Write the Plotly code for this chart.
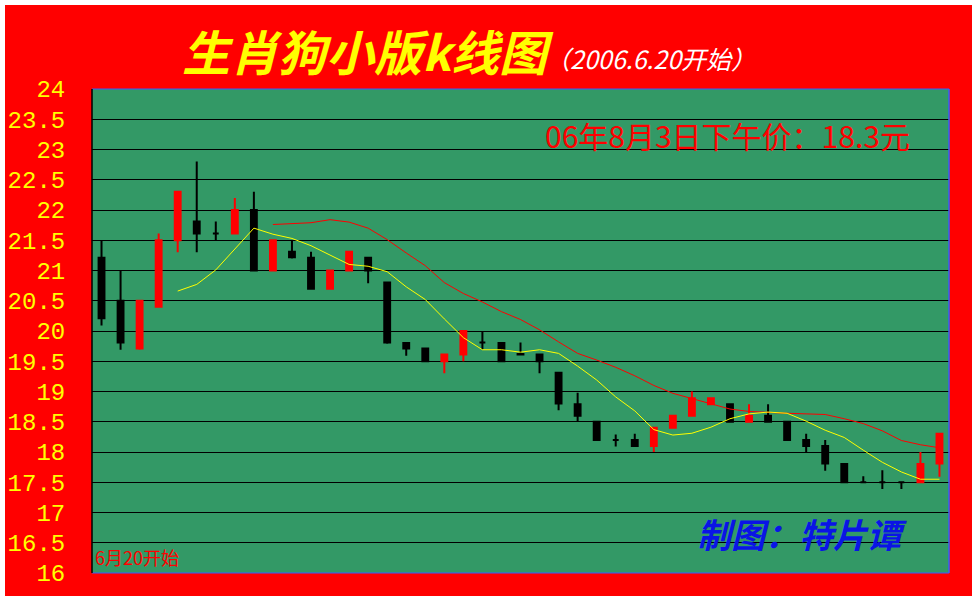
import plotly.graph_objects as go

# ---- data ----
opens = [21.21, 20.50, 19.71, 20.40, 21.50, 21.81, 21.61, 21.61, 22.00, 21.00,
         21.31, 21.21, 20.70, 21.00, 21.21, 20.80, 19.80, 19.71, 19.50, 19.61,
         19.81, 19.80, 19.62, 19.61, 19.31, 18.79, 18.50, 18.20, 18.20, 18.10,
         18.40, 18.60, 18.79, 18.79, 18.50, 18.60, 18.50, 18.20, 18.10, 17.80,
         17.50, 17.50, 17.50, 17.50, 17.81]
highs = [21.50, 21.00, 20.50, 21.61, 22.30, 22.80, 21.81, 22.20, 22.30, 21.50,
         21.50, 21.31, 21.00, 21.31, 21.21, 20.80, 19.80, 19.71, 19.61, 20.00,
         20.00, 19.80, 19.81, 19.61, 19.31, 18.98, 18.50, 18.29, 18.30, 18.40,
         18.60, 19.00, 18.89, 18.79, 18.79, 18.79, 18.50, 18.30, 18.20, 17.80,
         17.60, 17.70, 17.50, 18.00, 18.30]
lows = [20.09, 19.69, 19.69, 20.39, 21.30, 21.30, 21.50, 21.60, 21.00, 21.00,
        21.20, 20.69, 20.69, 21.00, 20.79, 19.79, 19.59, 19.50, 19.30, 19.50,
        19.70, 19.50, 19.61, 19.30, 18.69, 18.50, 18.19, 18.09, 18.09, 18.00,
        18.39, 18.59, 18.79, 18.50, 18.50, 18.50, 18.19, 18.00, 17.69, 17.50,
        17.50, 17.39, 17.39, 17.50, 17.59]
closes = [20.21, 19.81, 20.50, 21.50, 22.30, 21.61, 21.61, 22.00, 21.00, 21.50,
          21.22, 20.70, 21.00, 21.31, 21.00, 19.81, 19.71, 19.50, 19.61, 20.00,
          19.81, 19.50, 19.61, 19.50, 18.80, 18.60, 18.20, 18.20, 18.10, 18.40,
          18.60, 18.89, 18.89, 18.50, 18.60, 18.50, 18.20, 18.10, 17.81, 17.50,
          17.50, 17.50, 17.50, 17.80, 18.30]
# 5-day average line (from day 5) and 10-day average line (from day 10)
ma5 = [20.66, 20.77, 21.01, 21.36, 21.70, 21.60, 21.53, 21.41, 21.26, 21.10,
       21.07, 20.98, 20.73, 20.52, 20.20, 19.89, 19.69, 19.69, 19.65, 19.69,
       19.63, 19.42, 19.19, 18.91, 18.68, 18.37, 18.28, 18.31, 18.41, 18.55,
       18.63, 18.66, 18.64, 18.51, 18.36, 18.24, 18.03, 17.83, 17.67, 17.55,
       17.55]
ma10 = [21.76, 21.77, 21.79, 21.84, 21.80, 21.70, 21.51, 21.29, 21.08, 20.80,
        20.62, 20.48, 20.32, 20.19, 20.02, 19.82, 19.63, 19.52, 19.40, 19.26,
        19.10, 18.97, 18.88, 18.79, 18.71, 18.67, 18.65, 18.64, 18.63, 18.62,
        18.55, 18.47, 18.35, 18.19, 18.12, 18.07]
ytick_vals = [16, 16.5, 17, 17.5, 18, 18.5, 19, 19.5, 20, 20.5, 21, 21.5, 22,
              22.5, 23, 23.5, 24]
ytick_text = ["16", "16.5", "17", "17.5", "18", "18.5", "19", "19.5", "20",
              "20.5", "21", "21.5", "22", "22.5", "23", "23.5", "24"]

title_main = "生肖狗小版k线图"
title_sub = "（2006.6.20开始）"
price_note = "06年8月3日下午价：18.3元"
author_note = "制图：特片谭"
start_note = "6月20开始"

n = len(closes)
days = list(range(1, n + 1))

# ---- page geometry helpers (page pixels -> paper coords) ----
PL, PR, PT, PB = 92, 949, 89, 573


def px(x):
    return (x - PL) / (PR - PL)


def py(y):
    return (PB - y) / (PB - PT)


GREEN = "#339966"
CJK = "Noto Sans CJK SC"

fig = go.Figure()
fig.add_trace(go.Candlestick(
    x=days, open=opens, high=highs, low=lows, close=closes,
    increasing=dict(line=dict(color="#ff0000", width=2), fillcolor="#ff0000"),
    decreasing=dict(line=dict(color="#000000", width=2), fillcolor="#000000"),
    whiskerwidth=0, hoverinfo="skip"))
fig.add_trace(go.Scatter(x=days[9:], y=ma10, mode="lines",
                         line=dict(color="#ff0000", width=1), hoverinfo="skip"))
fig.add_trace(go.Scatter(x=days[4:], y=ma5, mode="lines",
                         line=dict(color="#ffff00", width=1), hoverinfo="skip"))

shapes = [
    # green patches behind the two notes (hide grid lines, below traces)
    dict(type="rect", xref="paper", yref="paper", x0=px(527), x1=px(932),
         y0=py(166), y1=py(104), fillcolor=GREEN, line=dict(width=0),
         layer="between"),
    dict(type="rect", xref="paper", yref="paper", x0=px(676), x1=px(932),
         y0=py(553), y1=py(504), fillcolor=GREEN, line=dict(width=0),
         layer="between"),
    # frame
    dict(type="line", xref="paper", yref="paper", x0=0, x1=1, y0=1, y1=1,
         line=dict(color="#3a5cff", width=1)),
    dict(type="line", xref="paper", yref="paper", x0=0, x1=1, y0=0, y1=0,
         line=dict(color="#3a5cff", width=1)),
    dict(type="line", xref="paper", yref="paper", x0=1, x1=1, y0=0, y1=1,
         line=dict(color="#3a5cff", width=1.5)),
    dict(type="line", xref="paper", yref="paper", x0=0, x1=0, y0=0, y1=1,
         line=dict(color="#000000", width=1.5)),
]

annotations = [
    dict(xref="paper", yref="paper", x=px(180), y=py(50), xanchor="left",
         yanchor="middle", showarrow=False,
         text="<b><i>" + title_main + "</i></b>",
         font=dict(family=CJK, size=48, color="#ffff00")),
    dict(xref="paper", yref="paper", x=px(543), y=py(58), xanchor="left",
         yanchor="middle", showarrow=False, text="<i>" + title_sub + "</i>",
         font=dict(family=CJK, size=25, color="#ffffff")),
    dict(xref="paper", yref="paper", x=px(543), y=py(135), xanchor="left",
         yanchor="middle", showarrow=False, text=price_note,
         font=dict(family=CJK, size=30, color="#ff0000")),
    dict(xref="paper", yref="paper", x=px(695), y=py(533), xanchor="left",
         yanchor="middle", showarrow=False,
         text="<b><i>" + author_note + "</i></b>",
         font=dict(family=CJK, size=34, color="#0a14e6")),
    dict(xref="paper", yref="paper", x=px(93), y=py(557), xanchor="left",
         yanchor="middle", showarrow=False, text=start_note,
         font=dict(family=CJK, size=18, color="#ff0000")),
]

fig.update_layout(
    width=967, height=591,
    margin=dict(l=PL - 5, r=972 - PR, t=PT - 5, b=596 - PB, pad=0,
                autoexpand=False),
    paper_bgcolor="#ff0000", plot_bgcolor=GREEN,
    showlegend=False, boxgap=0.56,
    shapes=shapes, annotations=annotations,
    xaxis=dict(range=[0.5, n + 0.5], visible=False, showgrid=False,
               rangeslider=dict(visible=False), fixedrange=True,
               automargin=False),
    yaxis=dict(range=[16, 24], tickvals=ytick_vals, ticktext=ytick_text,
               showgrid=True, gridcolor="#000000", gridwidth=1,
               zeroline=False, showline=False, automargin=False,
               ticks="outside", ticklen=21, tickcolor="rgba(0,0,0,0)",
               tickfont=dict(family="Liberation Mono", size=24,
                             color="#ffff00"),
               fixedrange=True),
)

fig.write_html(
    "out.html",
    config={"displayModeBar": False, "staticPlot": True},
    post_script="document.body.style.margin='5px 0 0 5px';"
                "document.body.style.overflow='hidden';"
                "document.body.style.background='#ffffff';")
